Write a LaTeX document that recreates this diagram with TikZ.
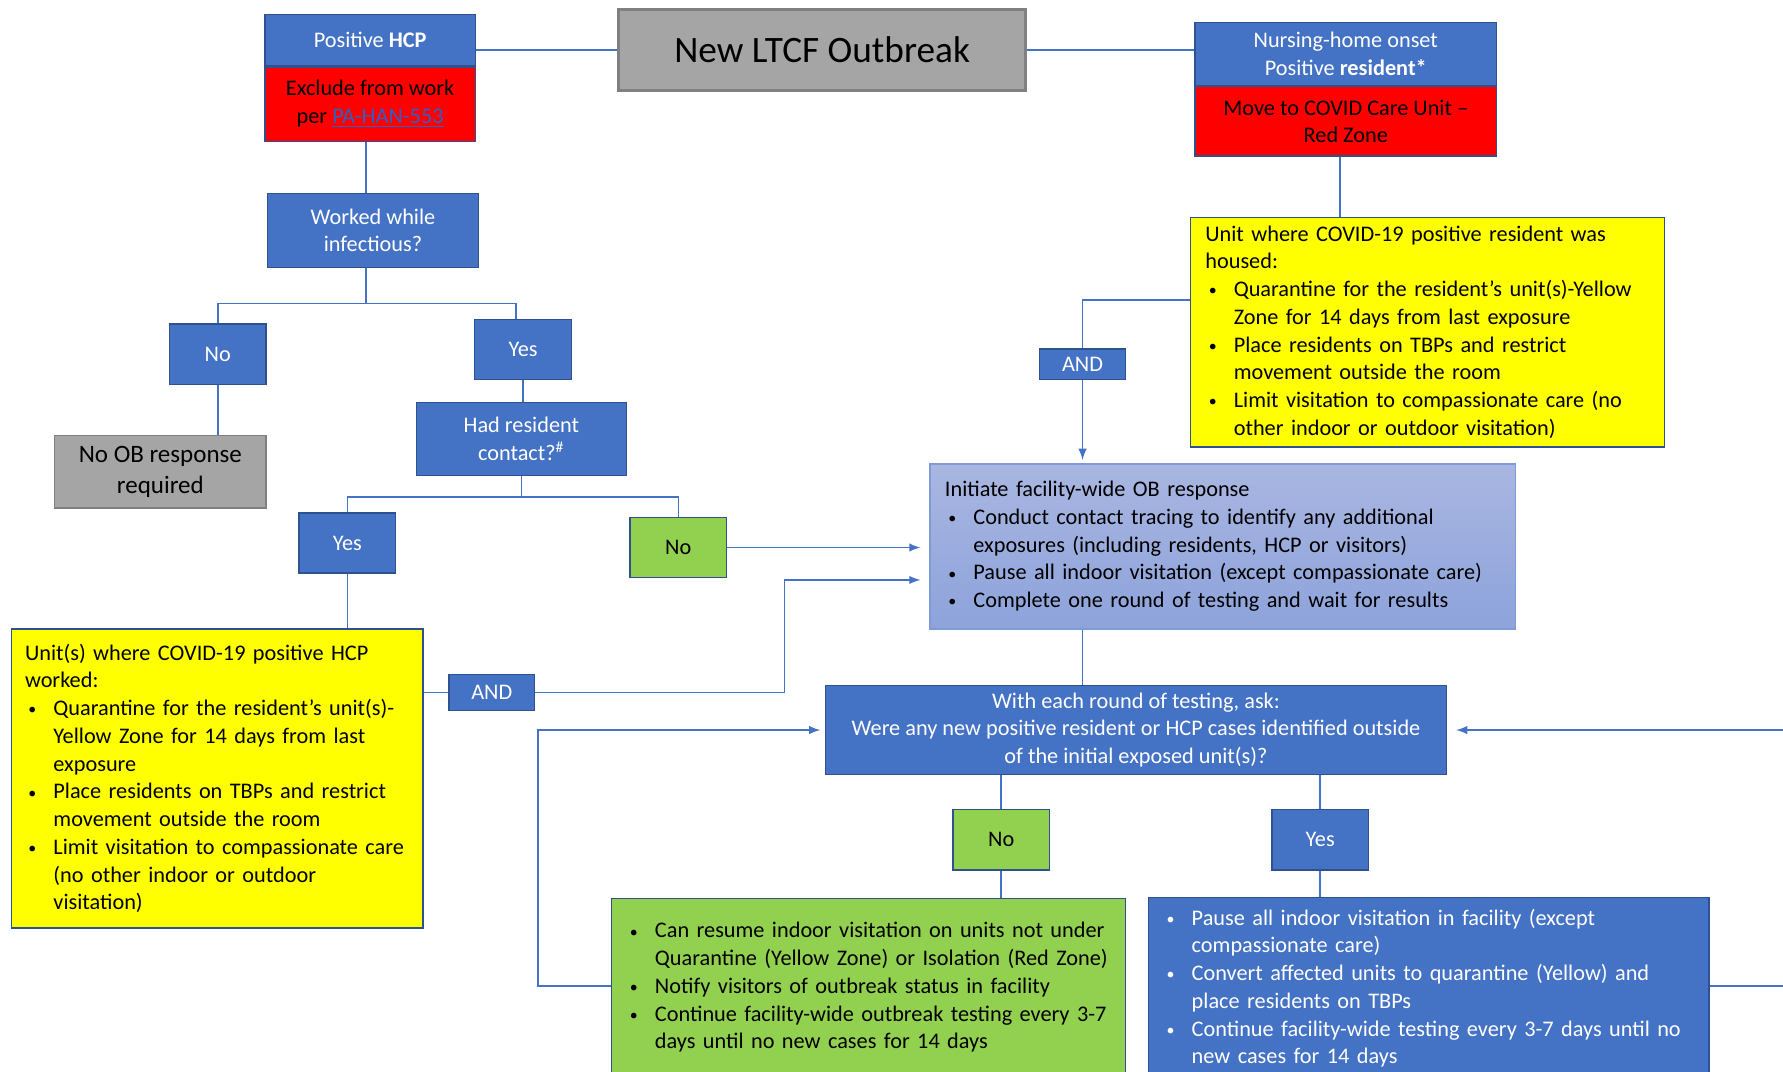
\documentclass[tikz,border=0pt]{standalone}
\usepackage{fontspec}
\setmainfont{Carlito}
\usetikzlibrary{arrows,positioning}

\definecolor{hcpblue}{HTML}{4472C4}
\definecolor{edgeblue}{HTML}{2F528F}
\definecolor{linkblue}{HTML}{2F5FC4}
\definecolor{obtop}{HTML}{A9B6E1}
\definecolor{obbot}{HTML}{8DA3DB}
\definecolor{obedge}{HTML}{7F9BD6}
\definecolor{zonegreen}{HTML}{92D050}
\definecolor{zoneyellow}{HTML}{FFFF00}
\definecolor{boxgray}{HTML}{A5A5A5}
\definecolor{grayedge}{HTML}{808080}

\newcommand{\bodyfont}{\fontsize{9.8}{12.2}\selectfont}
\newcommand{\bul}{\par\noindent\hangindent=12.5pt\hangafter=1%
  \makebox[12.5pt][l]{\hspace{1.5pt}{\fontsize{7}{7}\selectfont\raisebox{0.35pt}{\textbullet}}}}

\tikzset{
  box/.style={draw=edgeblue, line width=0.6pt, inner sep=0pt, align=center, font=\bodyfont},
  bluebox/.style={box, fill=hcpblue, text=white},
  redbox/.style={box, fill=red, text=black},
  yellowbox/.style={box, fill=zoneyellow, text=black, align=left},
  greenbox/.style={box, fill=zonegreen, text=black},
  graybox/.style={draw=grayedge, line width=0.8pt, fill=boxgray, inner sep=0pt, align=center},
  obbox/.style={box, draw=obedge, top color=obtop, bottom color=obbot, text=black, align=left},
  choice/.style={minimum width=42.5pt, minimum height=26.5pt},
  conn/.style={draw=hcpblue, line width=0.7pt},
}

\begin{document}
\begin{tikzpicture}[x=0.5pt,y=0.5pt]
\useasboundingbox (0,0) rectangle (1568,-942);

% top row
\node[graybox, line width=1.3pt, minimum width=179pt, minimum height=36pt,
      font=\fontsize{16.4}{20}\selectfont] (title) at (723,-44) {New LTCF Outbreak};
\node[bluebox, minimum width=92.5pt, minimum height=22.5pt] (hcptop) at (325.5,-35.5) {Positive \textbf{HCP}};
\node[redbox, minimum width=92.5pt, minimum height=32.5pt, below=0pt of hcptop] (hcpred)
      {Exclude from work\\per \textcolor{linkblue}{\underline{PA-HAN-553}}};
\node[bluebox, minimum width=132.5pt, minimum height=27.5pt] (nurtop) at (1183.5,-47.5)
      {Nursing-home onset\\Positive \textbf{resident*}};
\node[redbox, minimum width=132.5pt, minimum height=30.5pt, below=0pt of nurtop] (nurred)
      {Move to COVID Care Unit –\\Red Zone};

% resident branch
\node[yellowbox, minimum width=208.5pt, minimum height=101pt, text width=195.5pt] (unitres) at (1255.5,-292)
      {Unit where COVID-19 positive resident was\\housed:
       \bul Quarantine for the resident’s unit(s)-Yellow\newline Zone for 14 days from last exposure
       \bul Place residents on TBPs and restrict\newline movement outside the room
       \bul Limit visitation to compassionate care (no\newline other indoor or outdoor visitation)\par};
\node[bluebox, minimum width=38pt, minimum height=13.5pt] (and1) at (952,-320.5) {AND};
\node[obbox, minimum width=257.5pt, minimum height=72.5pt, text width=244.5pt] (initob) at (1075.5,-480.5)
      {Initiate facility-wide OB response
       \bul Conduct contact tracing to identify any additional\newline exposures (including residents, HCP or visitors)
       \bul Pause all indoor visitation (except compassionate care)
       \bul Complete one round of testing and wait for results\par};

% HCP branch
\node[bluebox, minimum width=93pt, minimum height=32.5pt] (worked) at (328,-202.5) {Worked while\\infectious?};
\node[bluebox, choice] (noA) at (191.5,-311.5) {No};
\node[bluebox, choice] (yesA) at (460,-307.5) {Yes};
\node[graybox, minimum width=93pt, minimum height=32pt, font=\fontsize{11}{13.5}\selectfont] (noob) at (141,-415)
      {No OB response\\required};
\node[bluebox, minimum width=92.5pt, minimum height=32pt] (contact) at (458.5,-386)
      {Had resident\\contact?\textsuperscript{\#}};
\node[bluebox, choice] (yesB) at (305.5,-477.5) {Yes};
\node[greenbox, choice] (noB) at (596.5,-481.5) {No};
\node[yellowbox, minimum width=181pt, minimum height=131.5pt, text width=169pt] (unithcp) at (191,-684.5)
      {Unit(s) where COVID-19 positive HCP\\worked:
       \bul Quarantine for the resident’s unit(s)-\newline Yellow Zone for 14 days from last\newline exposure
       \bul Place residents on TBPs and restrict\newline movement outside the room
       \bul Limit visitation to compassionate care\newline (no other indoor or outdoor\newline visitation)\par};
\node[bluebox, minimum width=37.5pt, minimum height=16pt] (and2) at (432.5,-609) {AND};

% testing loop
\node[bluebox, minimum width=273pt, minimum height=39pt] (ask) at (999,-642)
      {With each round of testing, ask:\\Were any new positive resident or HCP cases identified outside\\of the initial exposed unit(s)?};
\node[greenbox, choice] (noC) at (880.5,-738.5) {No};
\node[bluebox, choice] (yesC) at (1161,-738.5) {Yes};
\node[greenbox, align=left, minimum width=226pt, minimum height=77pt, text width=213pt] (resume) at (764,-867)
      {\bul Can resume indoor visitation on units not under\newline Quarantine (Yellow Zone) or Isolation (Red Zone)
       \bul Notify visitors of outbreak status in facility
       \bul Continue facility-wide outbreak testing every 3-7\newline days until no new cases for 14 days\par\vspace*{4pt}};
\node[bluebox, align=left, minimum width=246.5pt, minimum height=77pt, text width=233.5pt] (pause) at (1256.5,-867)
      {\bul Pause all indoor visitation in facility (except\newline compassionate care)
       \bul Convert affected units to quarantine (Yellow) and\newline place residents on TBPs
       \bul Continue facility-wide testing every 3-7 days until no\newline new cases for 14 days\par\vspace*{3pt}};

% connectors
\draw[conn] (title.west) -- (title.west -| hcptop.east);
\draw[conn] (title.east) -- (title.east -| nurtop.west);
\draw[conn] ([xshift=-2.5pt]nurred.south) -- ([xshift=-2.5pt]nurred.south |- unitres.north);
\draw[conn] ([yshift=14pt]unitres.west) -| (and1.north);
\draw[conn,-latex,shorten >=1.5pt] (and1.south) -- (and1.south |- initob.north);

\coordinate (splitA) at (322,-267);
\draw[conn] (splitA |- hcpred.south) -- (splitA |- worked.north);
\draw[conn] (splitA |- worked.south) -- (splitA) -| (noA.north);
\draw[conn] (splitA) -| ([xshift=-3pt]yesA.north);
\draw[conn] (noA.south) -- (noA.south |- noob.north);
\draw[conn] (yesA.south) -- (yesA.south |- contact.north);
\coordinate (splitB) at (458.5,-437);
\draw[conn] (contact.south) -- (splitB) -| (yesB.north);
\draw[conn] (splitB) -| (noB.north);
\draw[conn,-latex,shorten >=4pt] (noB.east) -- (noB.east -| initob.west);
\draw[conn] (yesB.south) -- (yesB.south |- unithcp.north);
\draw[conn] (and2.west -| unithcp.east) -- (and2.west);
\coordinate (jog) at (690,-510);
\draw[conn,-latex,shorten >=4pt] (and2.east) -| (jog) -- (jog -| initob.west);

\draw[conn] (and1.south |- initob.south) -- (and1.south |- ask.north);
\draw[conn] (noC.north) -- (noC.north |- ask.south);
\draw[conn] (yesC.north) -- (yesC.north |- ask.south);
\draw[conn] (noC.south) -- (noC.south |- resume.north);
\draw[conn] (yesC.south) -- (yesC.south |- pause.north);
\coordinate (backL) at (473,-642);
\draw[conn,-latex,shorten >=2pt] (resume.west) -| (backL) -- (ask.west);
\coordinate (backR) at (1600,-642);
\draw[conn,-latex,shorten >=4pt] (pause.east) -| (backR) -- (ask.east);
\end{tikzpicture}
\end{document}
